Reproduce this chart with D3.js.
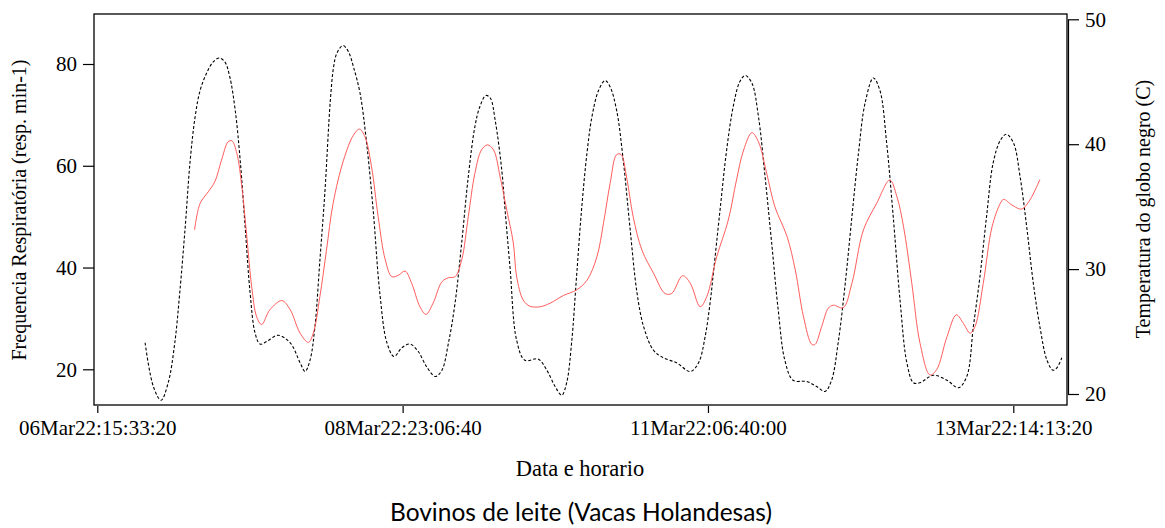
<!DOCTYPE html>
<html>
<head>
<meta charset="utf-8">
<script src="https://cdn.jsdelivr.net/npm/d3@7"></script>
<style>
   body { margin: 0; background: #fff; }
   svg text { font-family: "Liberation Serif", "Times New Roman", serif; fill: #000; }
</style>
</head>
<body>
<div id="draw_area"></div>
<script>
// hours after 06Mar22 15:33:20 and readings
var temp_hours = [8.7, 10.2, 11.6, 12.9, 14.1, 15.0, 16.0, 16.9, 17.8, 18.7, 19.9, 21.1, 22.2, 23.2, 24.1, 25.1, 26.0, 26.9, 27.8, 28.7,
   29.6, 30.8, 32.9, 35.1, 36.9, 37.8, 38.7, 39.6, 40.5, 41.4, 42.4, 43.0, 43.6, 44.7, 45.7, 46.6, 47.8, 49.0, 50.2, 51.4,
   52.7, 54.0, 55.4, 56.9, 58.4, 59.9, 61.5, 62.7, 63.9, 65.1, 66.3, 67.5, 68.7, 69.6, 70.7, 71.5, 72.4, 73.6, 74.2, 75.1,
   76.3, 77.8, 80.2, 81.8, 83.3, 84.5, 85.4, 86.3, 87.2, 88.1, 89.1, 90.0, 91.2, 92.4, 93.3, 94.5, 95.7, 96.9, 98.2, 99.4,
   101.2, 103.0, 105.4, 107.9, 109.4, 110.6, 111.5, 112.1, 113.3, 114.5, 115.7, 116.9, 117.9, 119.1, 120.3, 121.5, 122.7, 123.9, 125.1, 126.6,
   129.1, 130.9, 132.4, 133.6, 134.8, 136.1, 137.3, 138.5, 139.7, 141.2, 142.4, 143.6, 144.8, 146.1, 147.3, 148.5, 149.7, 152.1, 154.6, 156.7,
   158.2, 159.4, 160.6, 161.8, 163.0, 164.3, 165.4, 166.7, 167.9, 169.1, 170.3, 171.5, 172.8, 173.9, 174.6, 175.5];
var temp_values = [24.1, 20.6, 19.5, 20.9, 24.1, 28.1, 33.4, 38.7, 42.2, 44.3, 45.7, 46.6, 46.9, 46.6, 45.4, 42.7, 38.7, 33.4, 28.1, 24.9,
   24.0, 24.2, 24.7, 24.1, 22.5, 21.8, 22.7, 25.4, 30.7, 36.1, 43.5, 46.2, 47.3, 47.9, 47.4, 46.2, 44.1, 40.1, 34.7, 28.1,
   24.1, 23.0, 23.7, 24.0, 23.4, 22.2, 21.4, 21.9, 24.1, 27.3, 32.1, 37.4, 41.4, 43.0, 43.9, 43.7, 41.9, 37.9, 34.7, 30.1,
   24.3, 22.7, 22.8, 21.9, 20.6, 19.9, 20.9, 24.1, 29.4, 34.7, 39.3, 42.2, 44.3, 45.1, 44.6, 42.7, 38.7, 33.4, 28.1, 25.4,
   23.5, 22.9, 22.5, 21.8, 22.5, 24.6, 27.3, 29.7, 34.7, 39.5, 43.0, 45.0, 45.5, 44.9, 42.2, 37.4, 32.1, 26.7, 22.7, 21.1,
   21.0, 20.6, 20.2, 21.1, 24.1, 28.9, 34.2, 39.3, 43.3, 45.3, 44.3, 40.2, 34.3, 27.3, 22.5, 20.9, 20.9, 21.5, 21.1, 20.5,
   21.4, 25.4, 29.4, 34.2, 38.5, 40.3, 40.8, 40.1, 37.4, 33.4, 28.9, 25.4, 22.7, 21.9, 22.1, 22.9];

var resp_hours = [17.7, 18.7, 20.2, 21.4, 22.6, 23.8, 24.5, 25.4, 26.3, 27.2, 28.1, 29.0, 29.9, 31.4, 33.6, 35.1, 36.9, 38.4, 39.3, 40.5,
   41.7, 42.9, 44.8, 46.6, 47.7, 48.7, 49.9, 51.1, 52.4, 53.6, 54.8, 56.0, 57.2, 58.7, 59.8, 61.1, 62.7, 63.9, 65.1, 66.3,
   67.5, 68.7, 69.9, 71.0, 72.1, 73.3, 74.5, 75.7, 76.3, 77.5, 78.7, 80.6, 82.4, 84.8, 87.2, 89.1, 90.9, 92.1, 93.3, 94.5,
   95.3, 96.3, 97.5, 99.1, 101.2, 103.3, 104.5, 106.5, 107.9, 109.7, 110.9, 112.7, 114.8, 116.3, 117.6, 119.1, 120.3, 121.8, 123.3, 125.5,
   127.0, 128.5, 130.0, 130.6, 131.8, 133.0, 133.9, 135.7, 137.3, 139.4, 141.8, 144.2, 145.5, 146.7, 148.2, 149.7, 151.5, 152.7, 154.6, 156.3,
   157.6, 158.8, 159.7, 161.2, 162.8, 164.3, 164.9, 166.4, 168.2, 169.7, 171.5];
var resp_values = [47.4, 52.6, 54.9, 56.9, 61.1, 64.7, 64.9, 62.4, 55.9, 46.1, 36.2, 30.3, 28.8, 31.7, 33.5, 31.7, 27.1, 25.3, 27.1, 34.3,
   43.4, 52.6, 61.1, 66.0, 67.2, 65.7, 59.8, 50.0, 41.5, 38.2, 38.5, 39.3, 36.9, 32.3, 30.8, 33.0, 37.2, 38.0, 38.2, 41.5,
   50.0, 58.5, 63.1, 64.1, 63.1, 57.8, 51.3, 44.8, 38.2, 33.6, 32.4, 32.3, 33.0, 34.5, 35.6, 37.5, 42.1, 48.7, 56.5, 62.2,
   62.2, 57.8, 50.0, 43.4, 38.9, 34.9, 34.9, 38.4, 36.9, 32.3, 34.3, 42.1, 49.3, 57.2, 63.1, 66.5, 64.7, 58.5, 51.9, 46.1,
   39.5, 30.3, 24.9, 24.9, 28.4, 32.0, 32.6, 32.1, 36.9, 47.4, 52.6, 57.2, 53.9, 48.0, 36.9, 25.1, 18.9, 19.9, 26.4, 30.7,
   29.0, 27.1, 28.4, 36.9, 48.0, 52.6, 53.4, 52.3, 51.5, 53.3, 57.3];

var left_ticks = [20, 40, 60, 80];
var right_ticks = [20, 30, 40, 50];
var x_tick_count = 4;
var x_tick_step_s = 200000;
var start_time = Date.UTC(2022, 2, 6, 15, 33, 20);

var title_left = "Frequencia Respiratória (resp. min-1)";
var title_right = "Temperatura do globo negro (C)";
var title_bottom = "Data e horario";
var caption = "Bovinos de leite (Vacas Holandesas)";

function hours_to_date(h) { return new Date(start_time + h * 3600000); }

function draw_chart() {
   var svg = d3.select("div#draw_area").append("svg").attr("id", "chart_svg")
      .attr("width", 1165).attr("height", 528);

   var box = { left: 94, right: 1067, top: 14, bottom: 405 };

   var x_ticks = d3.range(x_tick_count).map(function(i) { return new Date(start_time + i * x_tick_step_s * 1000); });
   var x = d3.scaleTime().domain([x_ticks[0], x_ticks[x_tick_count - 1]]).range([97.3, 1013.3]);
   var y_left = d3.scaleLinear().domain([20, 80]).range([369.3, 64]);
   var y_right = d3.scaleLinear().domain([20, 50]).range([394, 19.3]);
   var fmt = d3.utcFormat("%d%b%y:%H:%M:%S");

   var temp_data = temp_hours.map(function(h, i) { return { t: hours_to_date(h), v: temp_values[i] }; });
   var resp_data = resp_hours.map(function(h, i) { return { t: hours_to_date(h), v: resp_values[i] }; });

   var temp_line = d3.line().x(function(d) { return x(d.t); }).y(function(d) { return y_right(d.v); })
      .curve(d3.curveCatmullRom.alpha(0.5));
   var resp_line = d3.line().x(function(d) { return x(d.t); }).y(function(d) { return y_left(d.v); })
      .curve(d3.curveCatmullRom.alpha(0.5));

   svg.append("path").datum(temp_data).attr("d", temp_line)
      .attr("fill", "none").attr("stroke", "#000").attr("stroke-width", 1.1).attr("stroke-dasharray", "3,2");
   svg.append("path").datum(resp_data).attr("d", resp_line)
      .attr("fill", "none").attr("stroke", "#ff4a4a").attr("stroke-width", 0.9);

   // box
   svg.append("rect").attr("x", box.left).attr("y", box.top)
      .attr("width", box.right - box.left).attr("height", box.bottom - box.top)
      .attr("fill", "none").attr("stroke", "#000").attr("stroke-width", 1.3);

   // left axis
   var g_left = svg.append("g").attr("transform", "translate(" + box.left + ",0)")
      .call(d3.axisLeft(y_left).tickValues(left_ticks).tickSize(11).tickPadding(6).tickSizeOuter(0));
   // right axis
   var g_right = svg.append("g").attr("transform", "translate(" + (box.right + 1) + ",0)")
      .call(d3.axisRight(y_right).tickValues(right_ticks).tickSize(11).tickPadding(6).tickSizeOuter(0));
   // bottom axis
   var g_bottom = svg.append("g").attr("transform", "translate(0," + (box.bottom + 1) + ")")
      .call(d3.axisBottom(x).tickValues(x_ticks).tickFormat(fmt).tickSize(7).tickPadding(7).tickSizeOuter(0));

   [g_left, g_right, g_bottom].forEach(function(g) {
      g.attr("font-family", null).attr("font-size", null);
      g.selectAll("text").style("font-family", "Liberation Serif").style("font-size", "21px").attr("fill", "#000");
      g.selectAll("line").attr("stroke", "#000").attr("stroke-width", 1.2);
      g.select("path.domain").attr("stroke", "#000").attr("stroke-width", 1.2);
   });
   g_bottom.select("path.domain").remove();
   g_left.select("path.domain").remove();

   svg.append("text").attr("transform", "translate(26,210) rotate(-90)")
      .attr("text-anchor", "middle").style("font-size", "20px").text(title_left);
   svg.append("text").attr("transform", "translate(1150,209) rotate(-90)")
      .attr("text-anchor", "middle").style("font-size", "20px").text(title_right);
   svg.append("text").attr("x", 580).attr("y", 476)
      .attr("text-anchor", "middle").style("font-size", "22.5px").text(title_bottom);
   svg.append("text").attr("x", 581).attr("y", 521)
      .attr("text-anchor", "middle").style("font-family", "Lato, 'Open Sans', sans-serif").style("font-size", "24.5px")
      .text(caption);
}

draw_chart();
</script>
</body>
</html>
